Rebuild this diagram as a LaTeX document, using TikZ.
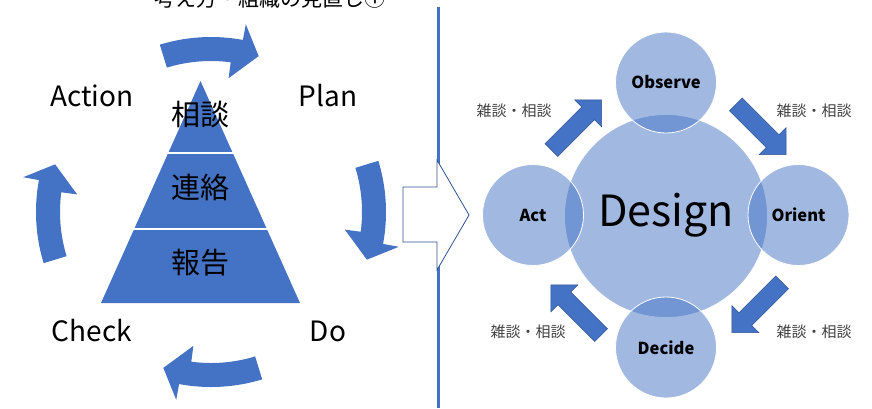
\documentclass[tikz,border=0pt]{standalone}
\usepackage{fontspec}
\setmainfont{Noto Sans CJK JP}
\definecolor{acc}{HTML}{4472C4}
\definecolor{accd}{HTML}{2F528F}
\newcommand\cyclearrow[1]{%
  \pgfmathsetmacro\caS{#1-17}%
  \pgfmathsetmacro\caBo{#1+10.5}%
  \pgfmathsetmacro\caBi{#1+7.5}%
  \pgfmathsetmacro\caT{#1+17}%
  \fill[acc] plot[domain=\caS:\caBo, samples=30] ({211+175*cos(\x)},{212+175*sin(\x)})
    -- ({211+191*cos(\caBo)},{212+191*sin(\caBo)})
    -- ({211+163*cos(\caT)},{212+163*sin(\caT)})
    -- ({211+135*cos(\caBi)},{212+135*sin(\caBi)})
    -- plot[domain=\caBi:\caS, samples=30] ({211+151*cos(\x)},{212+151*sin(\x)}) -- cycle;
}
\newcommand\diagarrow[3]{%
  \begin{scope}[shift={(#1,#2)}, rotate=#3]
    \filldraw[fill=acc, draw=accd, line width=0.5pt]
      (-35.5,-9) -- (16.5,-9) -- (16.5,-19) -- (35.5,0) -- (16.5,19) -- (16.5,9) -- (-35.5,9) -- cycle;
  \end{scope}
}
\begin{document}
\begin{tikzpicture}[x=1pt, y=-1pt,
  cyc/.style={font=\fontsize{28}{32}\selectfont, inner sep=0pt},
  tri/.style={font=\fontsize{29}{32}\selectfont, inner sep=0pt},
  bubble/.style={circle, fill=acc, fill opacity=0.5, text opacity=1, draw=white, draw opacity=1,
    line width=0.8pt, inner sep=0pt, font=\bfseries\fontsize{16.5}{20}\selectfont},
  chat/.style={font=\fontsize{15}{18}\selectfont, text=black!75, inner sep=0pt}]
\useasboundingbox (0,0) rectangle (872,408);

% title (cut off at top)
\node[font=\fontsize{21}{24}\selectfont, anchor=base, inner sep=0pt] (title) at (270,6) {考え方・組織の見直し①};

% separator line
\coordinate (lt) at (438.5,7);
\coordinate (lb) at (438.5,408);
\draw[acc, line width=2.5pt] (lt) -- (lb);

% pyramid
\fill[acc] (200.5,81) -- (300,303) -- (101,303) -- cycle;
\draw[white, line width=1.2pt] (167.4,153) -- (233.6,153);
\draw[white, line width=1.2pt] (133.3,229) -- (267.7,229);
\node[tri] (soudan) at (200,114) {相談};
\node[tri] (renraku) at (200,188) {連絡};
\node[tri] (houkoku) at (200,263) {報告};

% PDCA labels
\node[cyc] (action) at (92,96) {Action};
\node[cyc] (plan) at (328,96) {Plan};
\node[cyc] (check) at (92,331) {Check};
\node[cyc] (do) at (328,331) {Do};

% cycle arrows
\cyclearrow{-90}
\cyclearrow{0}
\cyclearrow{90}
\cyclearrow{180}

% big outline arrow
\filldraw[fill=white, draw=accd, line width=0.8pt]
  (403,187) -- (437,187) -- (437,160) -- (469,215) -- (437,270) -- (437,242) -- (403,242) -- cycle;

% OODA circles
\node[bubble, minimum size=203pt] (design) at (666,216) {};
\node[bubble, minimum size=101pt] (observe) at (666,82.5) {Observe};
\node[bubble, minimum size=101pt] (decide) at (666,347.5) {Decide};
\node[bubble, minimum size=101pt] (act) at (533,215) {Act};
\node[bubble, minimum size=101pt] (orient) at (798.5,215) {Orient};
\node[font=\fontsize{43}{48}\selectfont, inner sep=0pt] (dtext) at (666,215) {Design};

% diagonal arrows
\diagarrow{576.5}{125}{45}
\diagarrow{761}{129.5}{-45}
\diagarrow{757}{307.5}{-135}
\diagarrow{576}{310}{135}

% chat labels
\node[chat] (c1) at (514,111) {雑談・相談};
\node[chat] (c2) at (814,111) {雑談・相談};
\node[chat] (c3) at (528,332) {雑談・相談};
\node[chat] (c4) at (814,332) {雑談・相談};
\end{tikzpicture}
\end{document}
